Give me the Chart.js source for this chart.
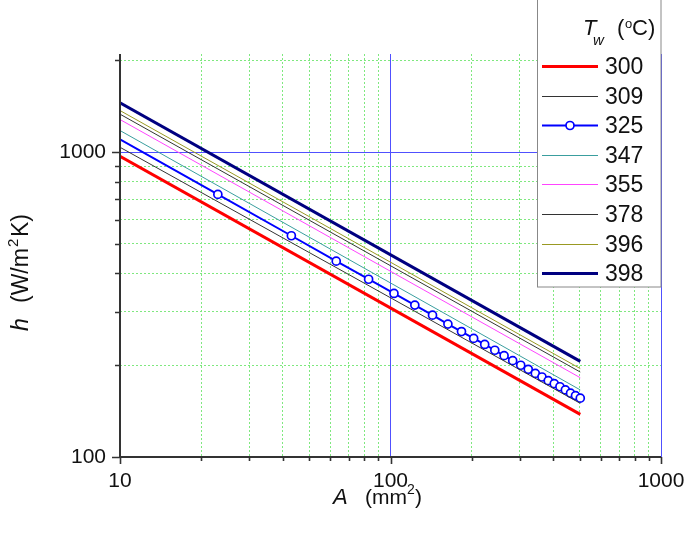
<!DOCTYPE html>
<html>
<head>
<meta charset="utf-8">
<title>h vs A</title>
<script src="https://cdn.jsdelivr.net/npm/chart.js"></script>
<style>
  body { margin: 0; background: #fff; }
</style>
</head>
<body>
<canvas id="hChart" width="685" height="539"></canvas>
<script>
// values: A in mm2, h in W/m2K
const temps = ['300', '309', '325', '347', '355', '378', '396', '398'];
const lineA = [10, 503];
const h300 = [970, 138];
const h309 = [1038, 150];
const h347 = [1178, 166];
const h355 = [1280, 182];
const h378 = [1333, 190];
const h396 = [1370, 195];
const h398 = [1452, 206];
const markA = [10, 23, 43, 63, 83, 103, 123, 143, 163, 183, 203, 223, 243, 263, 283,
               303, 323, 343, 363, 383, 403, 423, 443, 463, 483, 503];
const h325 = [1101, 727, 532, 439, 383, 344, 315, 292, 273, 258, 245, 234, 224, 215, 207,
              200, 194, 188, 183, 178, 174, 170, 166, 162, 159, 156];
const xTicks = [10, 20, 30, 40, 50, 60, 70, 80, 90, 100, 200, 300, 400, 500, 600, 700, 800, 900, 1000];
const yTicks = [100, 200, 300, 400, 500, 600, 700, 800, 900, 1000, 2000];
const xLabels = [10, 100, 1000];
const yLabels = [100, 1000];

const FONT = '"Liberation Sans", Arial, sans-serif';

function pts(xs, ys) {
    return xs.map((x, i) => ({x: x, y: ys[i]}));
}

const styles = [
    {color: '#ff0000', width: 3},
    {color: '#333333', width: 1},
    {color: '#0000ff', width: 2},
    {color: '#3a9e9e', width: 1},
    {color: '#ff44ff', width: 1},
    {color: '#333333', width: 1},
    {color: '#999922', width: 1},
    {color: '#000080', width: 3}
];
const series = [h300, h309, h325, h347, h355, h378, h396, h398];

const datasets = series.map((ys, i) => {
    const marked = temps[i] === '325';
    return {
        label: temps[i],
        data: marked ? pts(markA, ys) : pts(lineA, ys),
        borderColor: styles[i].color,
        borderWidth: styles[i].width,
        pointRadius: marked ? (c => c.dataIndex === 0 ? 0 : 4) : 0,
        pointBackgroundColor: '#ffffff',
        pointBorderColor: styles[i].color,
        pointBorderWidth: 1.7,
        showLine: true,
        fill: false,
        tension: 0
    };
});

function setTicks(list) {
    return scale => { scale.ticks = list.map(v => ({value: v})); };
}

const isMajor = c => c.tick && (c.tick.value === 100 || c.tick.value === 1000);

// axes, tick marks, axis titles and the boxed legend
const decorations = {
    id: 'decorations',
    afterDraw(chart) {
        const ctx = chart.ctx;
        const {left, right, top, bottom} = chart.chartArea;
        const xs = chart.scales.x, ys = chart.scales.y;
        ctx.save();
        ctx.strokeStyle = '#333';
        ctx.lineWidth = 2;
        ctx.beginPath();
        ctx.moveTo(left, top);
        ctx.lineTo(left, bottom + 1);
        ctx.moveTo(left - 1, bottom);
        ctx.lineTo(right, bottom);
        ctx.stroke();
        ctx.lineWidth = 1.6;
        ctx.beginPath();
        yTicks.forEach(v => {
            const p = Math.round(ys.getPixelForValue(v)) + 0.5;
            const len = yLabels.includes(v) ? 8 : 5;
            ctx.moveTo(left - len, p);
            ctx.lineTo(left, p);
        });
        xTicks.forEach(v => {
            const p = Math.round(xs.getPixelForValue(v)) + 0.5;
            const len = xLabels.includes(v) ? 7 : 4;
            ctx.moveTo(p, bottom);
            ctx.lineTo(p, bottom + len);
        });
        ctx.stroke();

        // axis titles
        ctx.fillStyle = '#111';
        ctx.textBaseline = 'alphabetic';
        ctx.textAlign = 'left';
        ctx.font = 'italic 22px ' + FONT;
        ctx.fillText('A', 333, 504);
        ctx.font = '21px ' + FONT;
        ctx.fillText('(mm', 365, 504);
        let w = ctx.measureText('(mm').width;
        ctx.font = '14px ' + FONT;
        ctx.fillText('2', 365 + w, 494);
        ctx.font = '21px ' + FONT;
        ctx.fillText(')', 365 + w + 8, 504);

        ctx.save();
        ctx.translate(28, 331);
        ctx.rotate(-Math.PI / 2);
        ctx.font = 'italic 23px ' + FONT;
        ctx.fillText('h', 0, 0);
        ctx.font = '23px ' + FONT;
        ctx.fillText('(W/m', 28, 0);
        w = ctx.measureText('(W/m').width;
        ctx.font = '15px ' + FONT;
        ctx.fillText('2', 28 + w + 1, -10);
        ctx.font = '23px ' + FONT;
        ctx.fillText('K)', 28 + w + 11, 0);
        ctx.restore();

        // legend box
        const bx = 537.5, by = -1, bw = right - 537.5, bh = 288;
        ctx.fillStyle = '#fff';
        ctx.fillRect(bx, by, bw, bh);
        ctx.strokeStyle = '#888';
        ctx.lineWidth = 1;
        ctx.strokeRect(bx, by, bw, bh);

        ctx.fillStyle = '#111';
        ctx.font = 'italic 22px ' + FONT;
        ctx.fillText('T', 583, 35);
        ctx.font = 'italic 15px ' + FONT;
        ctx.fillText('w', 593, 45);
        ctx.font = '22px ' + FONT;
        ctx.fillText('(', 617, 35);
        ctx.font = '13px ' + FONT;
        ctx.fillText('o', 625, 28);
        ctx.font = '22px ' + FONT;
        ctx.fillText('C)', 632, 35);

        chart.data.datasets.forEach((ds, i) => {
            const yy = Math.round(66 + i * 29.6) + 0.5;
            ctx.strokeStyle = ds.borderColor;
            ctx.lineWidth = ds.borderWidth;
            ctx.beginPath();
            ctx.moveTo(542, yy);
            ctx.lineTo(598, yy);
            ctx.stroke();
            if (ds.label === '325') {
                ctx.fillStyle = '#fff';
                ctx.lineWidth = 1.7;
                ctx.beginPath();
                ctx.arc(570, yy, 4, 0, Math.PI * 2);
                ctx.fill();
                ctx.stroke();
            }
            ctx.fillStyle = '#111';
            ctx.font = '23px ' + FONT;
            ctx.textBaseline = 'middle';
            ctx.fillText(ds.label, 605, yy + 1);
            ctx.textBaseline = 'alphabetic';
        });
        ctx.restore();
    }
};

new Chart(document.getElementById('hChart'), {
    type: 'line',
    data: {datasets: datasets},
    plugins: [decorations],
    options: {
        responsive: false,
        devicePixelRatio: 1,
        animation: false,
        parsing: true,
        layout: {padding: {top: 54, right: 24, left: 0, bottom: 0}},
        plugins: {legend: {display: false}, tooltip: {enabled: false}},
        scales: {
            x: {
                type: 'logarithmic',
                min: 10,
                max: 1000,
                bounds: 'data',
                afterBuildTicks: setTicks(xTicks),
                afterFit: s => { s.height = 82; s.paddingLeft = 0; s.paddingRight = 0; },
                grid: {
                    color: c => isMajor(c) ? '#5050ff' : '#7fe87f',
                    lineWidth: c => (c.tick && c.tick.value === 10) ? 0 : 1,
                    drawTicks: false
                },
                border: {display: false, dash: c => isMajor(c) ? [] : [2, 2]},
                ticks: {
                    autoSkip: false,
                    maxRotation: 0,
                    padding: 12,
                    color: '#111',
                    font: {family: FONT, size: 21},
                    callback: v => xLabels.includes(v) ? String(v) : ''
                }
            },
            y: {
                type: 'logarithmic',
                min: 100,
                max: 2100,
                bounds: 'data',
                afterBuildTicks: setTicks(yTicks),
                afterFit: s => { s.width = 120; s.paddingTop = 0; s.paddingBottom = 0; },
                grid: {
                    color: c => isMajor(c) ? '#5050ff' : '#7fe87f',
                    lineWidth: c => (c.tick && c.tick.value === 100) ? 0 : 1,
                    drawTicks: false
                },
                border: {display: false, dash: c => isMajor(c) ? [] : [2, 2]},
                ticks: {
                    autoSkip: false,
                    padding: 14,
                    color: '#111',
                    font: {family: FONT, size: 21},
                    callback: v => yLabels.includes(v) ? String(v) : ''
                }
            }
        }
    }
});
</script>
</body>
</html>
